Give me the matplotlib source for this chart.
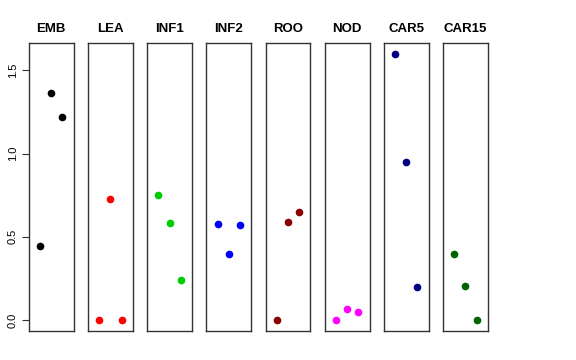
import matplotlib
matplotlib.use('Agg')
import matplotlib.pyplot as plt

groups = ['EMB', 'LEA', 'INF1', 'INF2', 'ROO', 'NOD', 'CAR5', 'CAR15']
values = {
    'EMB': [0.444, 1.362, 1.218],
    'LEA': [0.0, 0.726, 0.0],
    'INF1': [0.75, 0.582, 0.242],
    'INF2': [0.58, 0.40, 0.574],
    'ROO': [0.0, 0.59, 0.648],
    'NOD': [0.0, 0.068, 0.05],
    'CAR5': [1.598, 0.95, 0.20],
    'CAR15': [0.40, 0.206, 0.0],
}
colours = ['black', 'red', '#00CD00', 'blue', '#8B0000', 'magenta', '#000080', '#006400']
yticks = [0.0, 0.5, 1.0, 1.5]

plt.rcParams['font.family'] = ['Liberation Sans', 'DejaVu Sans']

fig, axes = plt.subplots(1, len(groups), figsize=(5.76, 3.6), dpi=100, sharey=True)
fig.subplots_adjust(left=0.050, right=0.847, top=0.880, bottom=0.081, wspace=0.32)

ymax = max(max(v) for v in values.values())
pad = 0.04 * ymax

for i, (ax, g) in enumerate(zip(axes, groups)):
    ys = values[g]
    ax.plot(range(1, len(ys) + 1), ys, 'o', color=colours[i], markersize=4.5)
    ax.set_xlim(0, 4)
    ax.set_ylim(-pad, ymax + pad)
    ax.set_xticks([])
    ax.set_title(g, fontsize=9.5, fontweight='bold', pad=8)
    for s in ax.spines.values():
        s.set_color('#333333')
        s.set_linewidth(1)
    if i == 0:
        ax.set_yticks(yticks)
        ax.set_yticklabels([f'{t:.1f}' for t in yticks], rotation=90, va='center', fontsize=8)
        ax.tick_params(axis='y', length=5, color='#333333', pad=3)
    else:
        ax.tick_params(axis='y', left=False, labelleft=False)

fig.savefig('out.png', dpi=100)
